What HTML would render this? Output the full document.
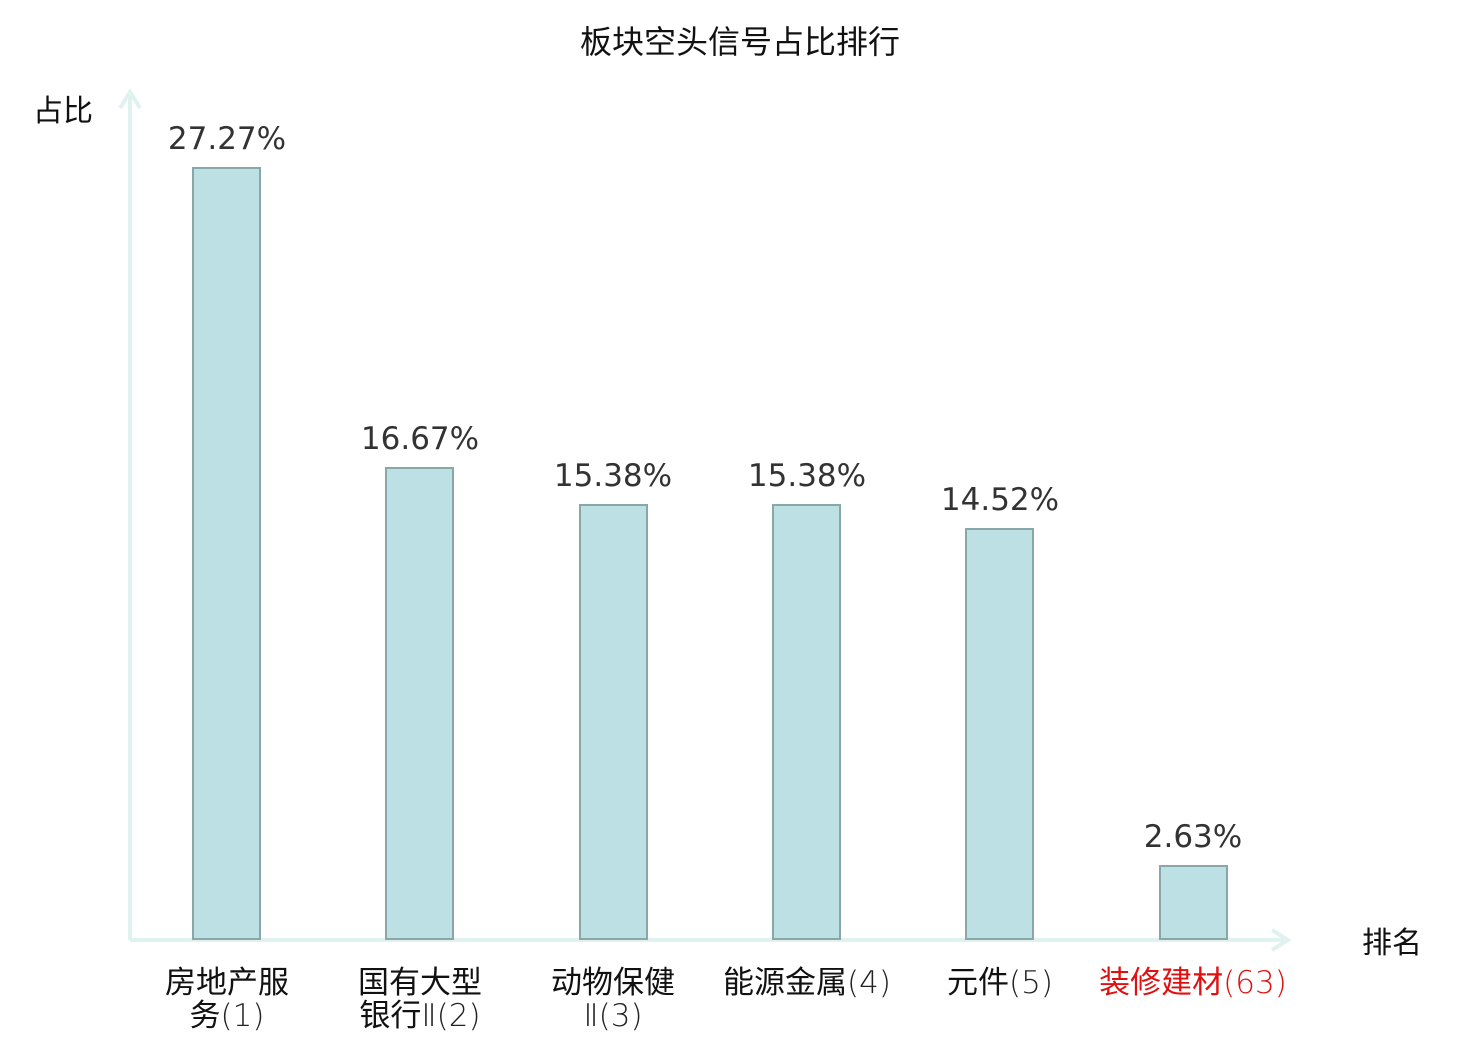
<!DOCTYPE html>
<html><head><meta charset="utf-8"><style>
html,body{margin:0;padding:0;background:#fff;}
svg text{font-family:"DejaVu Sans","Noto Sans CJK SC",sans-serif;}
.cn{font-family:"Noto Sans CJK SC","DejaVu Sans",sans-serif;}
</style></head><body>
<svg width="1480" height="1040" xmlns="http://www.w3.org/2000/svg">
<text class="cn" x="740" y="53" font-size="32" text-anchor="middle" fill="#111">板块空头信号占比排行</text>
<text class="cn" x="63" y="121" font-size="30" text-anchor="middle" fill="#111">占比</text>
<text class="cn" x="1392" y="953" font-size="30" text-anchor="middle" fill="#111">排名</text>
<g stroke="#dff2ef" stroke-width="4" fill="none">
<line x1="130" y1="92" x2="130" y2="940"/>
<polyline points="120,108 130,92 140,108"/>
<line x1="130" y1="940" x2="1288" y2="940"/>
<polyline points="1272,930 1288,940 1272,950"/>
</g>
<g fill="#bce0e3" stroke="#8aa7a8" stroke-width="2">
<rect x="193" y="168" width="67" height="771"/>
<rect x="386" y="468" width="67" height="471"/>
<rect x="580" y="505" width="67" height="434"/>
<rect x="773" y="505" width="67" height="434"/>
<rect x="966" y="529" width="67" height="410"/>
<rect x="1160" y="866" width="67" height="73"/>
</g>
<g font-size="31" fill="#333" text-anchor="middle">
<text x="227" y="149">27.27%</text>
<text x="420" y="449">16.67%</text>
<text x="613" y="486">15.38%</text>
<text x="807" y="486">15.38%</text>
<text x="1000" y="510">14.52%</text>
<text x="1193" y="847">2.63%</text>
</g>
<g class="cn" font-size="31" fill="#111" text-anchor="middle">
<text x="227" y="993">房地产服</text>
<text x="227" y="1026">务<tspan fill="#222" font-weight="300">(1)</tspan></text>
<text x="420" y="993">国有大型</text>
<text x="420" y="1026">银行<tspan fill="#222" font-weight="300">Ⅱ(2)</tspan></text>
<text x="613" y="993">动物保健</text>
<text x="613" y="1026" fill="#222" font-weight="300">Ⅱ(3)</text>
<text x="807" y="993">能源金属<tspan fill="#222" font-weight="300">(4)</tspan></text>
<text x="1000" y="993">元件<tspan fill="#222" font-weight="300">(5)</tspan></text>
<text x="1193" y="993" fill="#e01010">装修建材<tspan font-weight="300">(63)</tspan></text>
</g>
</svg>
</body></html>
